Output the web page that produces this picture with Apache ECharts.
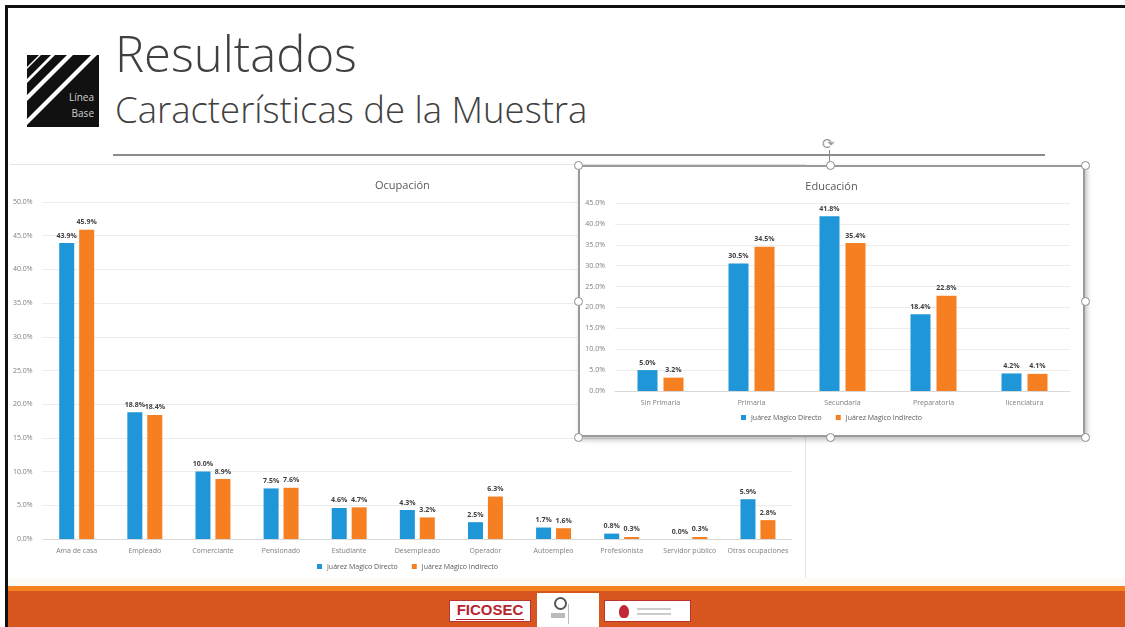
<!DOCTYPE html>
<html>
<head>
<meta charset="utf-8">
<script src="https://cdn.jsdelivr.net/npm/echarts@6/dist/echarts.min.js"></script>
<style>
  body { margin: 0; width: 1125px; height: 627px; overflow: hidden; background: #fff; font-family: "Open Sans", sans-serif; }
  .page { position: relative; width: 1125px; height: 627px; }
  .frame-top { position: absolute; left: 5px; top: 5px; width: 1120px; height: 3px; background: #111; }
  .frame-left { position: absolute; left: 5px; top: 5px; width: 3px; height: 622px; background: #111; }
  .title { position: absolute; left: 115px; top: 29px; font-size: 49px; font-weight: 300; color: #404040; line-height: 1; }
  .subtitle { position: absolute; left: 115px; top: 91px; font-size: 36.5px; font-weight: 300; color: #404040; line-height: 1; }
  .rule { position: absolute; left: 113px; top: 154px; width: 932px; height: 2px; background: #8c8c8c; }
  .logo { position: absolute; left: 27px; top: 55px; }
  #ocupacion { position: absolute; left: 10px; top: 164px; width: 795px; height: 416px; border-top: 1px solid #e6e6e6; border-right: 1px solid #e6e6e6; background: #fff; }
  .under { position: absolute; left: 8px; top: 578px; width: 1117px; height: 8px; background: #fdfbf5; }
  #educacion { position: absolute; left: 578px; top: 165px; width: 507px; height: 272px; background: #fff; border: 2px solid #9a9a9a; box-sizing: border-box; box-shadow: 2px 3px 5px rgba(0,0,0,0.25); }
  .handle { position: absolute; width: 7px; height: 7px; border: 1px solid #8a8a8a; border-radius: 50%; background: #fff; }
  .rot-line { position: absolute; left: 829px; top: 150px; width: 1px; height: 12px; background: #8a8a8a; }
  .rot { position: absolute; left: 822px; top: 136px; font-size: 15px; color: #9a9a9a; line-height: 1; }
  .footer { position: absolute; left: 8px; top: 586px; width: 1117px; height: 41px; background: #d8561f; border-top: 5px solid #f5821f; box-sizing: border-box; }
  .box { position: absolute; background: #fff; border: 1px solid #b33; box-sizing: border-box; }
  .ficosec { left: 449px; top: 600px; width: 82px; height: 22px; color: #b8232f; font-weight: 700; font-size: 15px; text-align: center; line-height: 18px; font-family: "Liberation Sans", sans-serif; }
  .ficosec small { position: absolute; left: 6px; bottom: 1px; width: 68px; height: 1px; background: #b8232f; }
  .mid { left: 537px; top: 593px; width: 62px; height: 34px; border: none; }
  .mid .eye { position: absolute; left: 17px; top: 4px; width: 9px; height: 9px; border: 2px solid #555; border-radius: 50%; }
  .mid .bar { position: absolute; left: 31px; top: 11px; width: 1px; height: 20px; background: #bbb; }
  .mid .txt { position: absolute; left: 14px; top: 20px; width: 14px; height: 5px; background: #bbb; }
  .right-logo { left: 604px; top: 600px; width: 87px; height: 22px; }
  .right-logo .heart { position: absolute; left: 14px; top: 4px; width: 10px; height: 13px; background: #c0283a; border-radius: 50% 50% 40% 40%; }
  .right-logo .ln { position: absolute; left: 32px; width: 34px; height: 2px; background: #ccc; }
</style>
</head>
<body>
<div class="page">
  <div class="frame-top"></div>
  <div class="frame-left"></div>

  <svg class="logo" width="72" height="72" viewBox="0 0 72 72">
    <rect x="0" y="0" width="72" height="72" fill="#111"/>
    <polygon points="0,12 12,0 14,0 0,14" fill="#fff"/>
    <polygon points="0,24 24,0 28,0 0,28" fill="#fff"/>
    <polygon points="0,40 40,0 46,0 0,46" fill="#fff"/>
    <polygon points="0,64 64,0 70,0 0,70" fill="#fff"/>
    <text x="67" y="46" font-size="10" fill="#cfcfcf" text-anchor="end" font-family="Open Sans">Línea</text>
    <text x="67" y="62" font-size="10" fill="#cfcfcf" text-anchor="end" font-family="Open Sans">Base</text>
  </svg>
  <div class="title">Resultados</div>
  <div class="subtitle">Características de la Muestra</div>
  <div class="rule"></div>

  <div id="ocupacion"></div>
  <div class="under"></div>

  <div class="rot">⟳</div>
  <div class="rot-line"></div>
  <div id="educacion"></div>

  <div class="footer"></div>
  <div class="box ficosec">FICOSEC<small></small></div>
  <div class="box mid"><div class="eye"></div><div class="bar"></div><div class="txt"></div></div>
  <div class="box right-logo"><div class="heart"></div><div class="ln" style="top:7px"></div><div class="ln" style="top:12px"></div></div>
</div>

<script>
const series1Name = 'Juárez Magico Directo'
const series2Name = 'Juárez Magico Indirecto'

const ocupacionCats = ['Ama de casa', 'Empleado', 'Comerciante', 'Pensionado', 'Estudiante', 'Desempleado',
  'Operador', 'Autoempleo', 'Profesionista', 'Servidor público', 'Otras ocupaciones']
const ocupacionDirecto = [43.9, 18.8, 10.0, 7.5, 4.6, 4.3, 2.5, 1.7, 0.8, 0.0, 5.9]
const ocupacionIndirecto = [45.9, 18.4, 8.9, 7.6, 4.7, 3.2, 6.3, 1.6, 0.3, 0.3, 2.8]

const educacionCats = ['Sin Primaria', 'Primaria', 'Secundaria', 'Preparatoria', 'licenciatura']
const educacionDirecto = [5.0, 30.5, 41.8, 18.4, 4.2]
const educacionIndirecto = [3.2, 34.5, 35.4, 22.8, 4.1]

const BLUE = '#1e96d8'
const ORANGE = '#f67f22'

function pct(v) {
  return Number(v).toFixed(1) + '%'
}

function barSeries(name, data, color, barWidth, barGap) {
  return {
    name,
    type: 'bar',
    data,
    barWidth,
    barGap,
    itemStyle: { color },
    label: {
      show: true,
      position: 'top',
      distance: 4,
      fontSize: 7,
      fontWeight: 'bold',
      color: '#404040',
      formatter: (p) => pct(p.value),
    },
  }
}

/** 生成柱状图配置 */
function buildOption(title, cats, directo, indirecto, cfg) {
  return {
    animation: false,
    textStyle: { fontFamily: 'Open Sans' },
    title: {
      text: title,
      left: cfg.titleLeft,
      top: cfg.titleTop,
      textStyle: { fontSize: 11, fontWeight: 'normal', color: '#595959' },
    },
    legend: {
      bottom: cfg.legendBottom,
      left: 'center',
      icon: 'rect',
      itemWidth: 5,
      itemHeight: 5,
      itemGap: 14,
      textStyle: { fontSize: 7, color: '#595959' },
      data: [series1Name, series2Name],
    },
    grid: cfg.grid,
    xAxis: {
      type: 'category',
      data: cats,
      axisTick: { show: false },
      axisLine: { lineStyle: { color: '#d9d9d9' } },
      axisLabel: { fontSize: 7, color: '#7f7f7f', interval: 0, margin: 8 },
    },
    yAxis: {
      type: 'value',
      min: 0,
      max: cfg.max,
      interval: 5,
      axisLine: { show: false },
      axisTick: { show: false },
      splitLine: { lineStyle: { color: '#ececec' } },
      axisLabel: { fontSize: 7, color: '#7f7f7f', formatter: (v) => pct(v), margin: 10 },
    },
    series: [
      barSeries(series1Name, directo, BLUE, cfg.barWidth, cfg.barGap),
      barSeries(series2Name, indirecto, ORANGE, cfg.barWidth, cfg.barGap),
    ],
  }
}

const ocupacionChart = echarts.init(document.getElementById('ocupacion'))
ocupacionChart.setOption(buildOption('Ocupación', ocupacionCats, ocupacionDirecto, ocupacionIndirecto, {
  titleLeft: 360,
  titleTop: 10,
  legendBottom: 6,
  grid: { left: 32, right: 13, top: 37, bottom: 42 },
  max: 50,
  barWidth: 15,
  barGap: '33%',
}))

const educacionChart = echarts.init(document.getElementById('educacion'))
educacionChart.setOption(buildOption('Educación', educacionCats, educacionDirecto, educacionIndirecto, {
  titleLeft: 'center',
  titleTop: 9,
  legendBottom: 9,
  grid: { left: 35, right: 13, top: 36, bottom: 44 },
  max: 45,
  barWidth: 20,
  barGap: '30%',
}))

// 选中框的控制点
const handles = [[578, 165], [830, 165], [1085, 165], [578, 301], [1085, 301], [578, 437], [830, 437], [1085, 437]]
handles.forEach(([x, y]) => {
  const h = document.createElement('div')
  h.className = 'handle'
  h.style.left = x - 4 + 'px'
  h.style.top = y - 4 + 'px'
  document.querySelector('.page').appendChild(h)
})
</script>
</body>
</html>
